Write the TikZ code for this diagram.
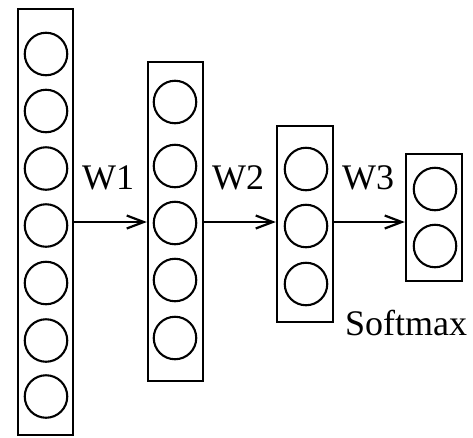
\documentclass[tikz,border=0pt]{standalone}
\usepackage{fontspec}
\setmainfont{Liberation Serif}
\usetikzlibrary{arrows.meta}
\begin{document}
\begin{tikzpicture}[x=1pt,y=-1pt,
  layerbox/.style={draw=black,line width=2.4pt,rectangle,inner sep=0pt},
  unit/.style={draw=black,line width=2.1pt,circle,minimum size=42.5pt,inner sep=0pt},
  conn/.style={line width=2.2pt,-{Straight Barb[length=17pt,width=13pt,line width=2.2pt]}},
  wlabel/.style={anchor=base west,inner sep=0pt,font=\fontsize{36}{40}\selectfont}
]
\useasboundingbox (0,0) rectangle (473,437);

% layer boxes
\node[layerbox,minimum width=55pt,minimum height=426pt] (b1) at (45.5,222) {};
\node[layerbox,minimum width=55pt,minimum height=319pt] (b2) at (175.5,221.5) {};
\node[layerbox,minimum width=56pt,minimum height=196pt] (b3) at (305,224) {};
\node[layerbox,minimum width=56pt,minimum height=127pt] (b4) at (434,217.5) {};

% units of each layer
\foreach \y [count=\i] in {54,111,168.5,225.5,283,340.5,396.5}
  \node[unit] (u1\i) at (46,\y) {};
\foreach \y [count=\i] in {102,166,223,280,338}
  \node[unit] (u2\i) at (175,\y) {};
\foreach \y [count=\i] in {169,226,284}
  \node[unit] (u3\i) at (306,\y) {};
\foreach \y [count=\i] in {189,246}
  \node[unit] (u4\i) at (435,\y) {};

% connections between layers
\coordinate (lev) at (0,222);
\draw[conn] (b1.east |- lev) -- (b2.west |- lev);
\draw[conn] (b2.east |- lev) -- (b3.west |- lev);
\draw[conn] (b3.east |- lev) -- (b4.west |- lev);

% weight labels
\node[wlabel] (w1) at (82,189) {W1};
\node[wlabel] (w2) at (212,189) {W2};
\node[wlabel] (w3) at (342,189) {W3};
\node[wlabel] (sm) at (345,335) {Softmax};
\end{tikzpicture}
\end{document}
